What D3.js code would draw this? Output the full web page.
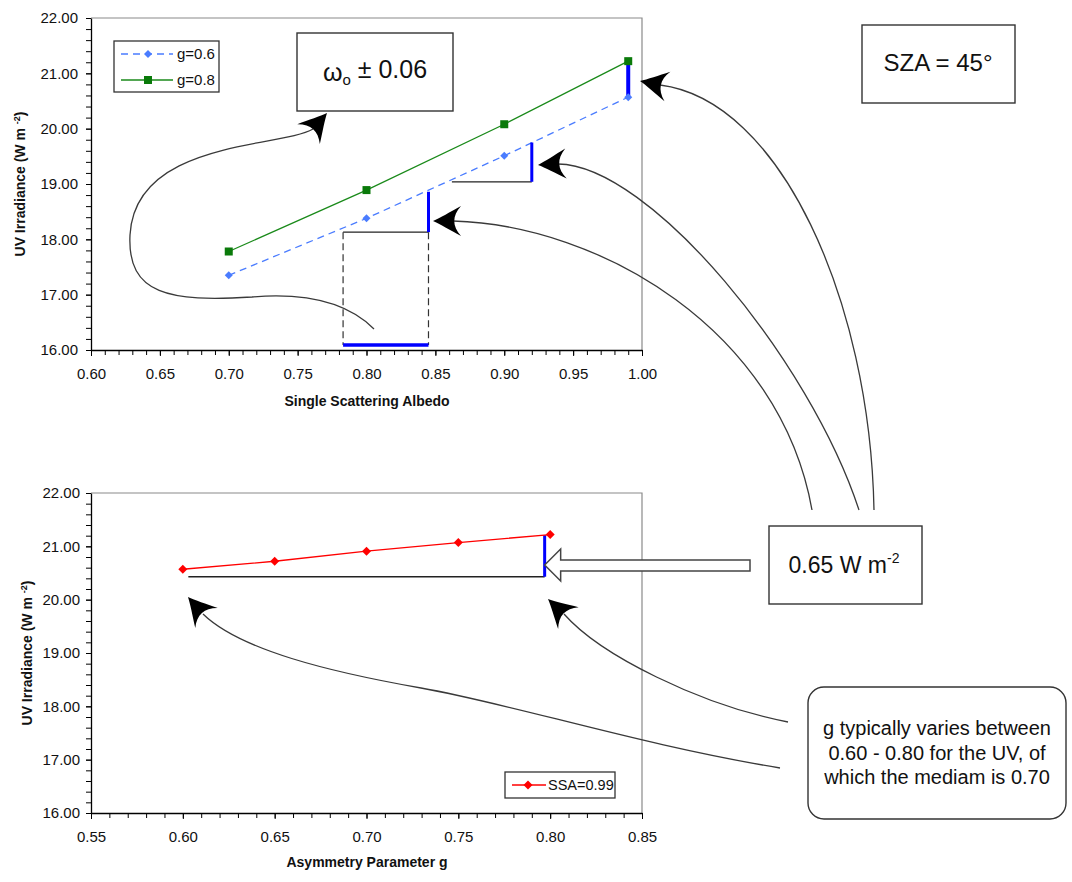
<!DOCTYPE html>
<html><head><meta charset="utf-8">
<script src="https://cdn.jsdelivr.net/npm/d3@7"></script>
<style>
body{margin:0;background:#fff;}
svg text{font-family:Arial,"Liberation Sans",sans-serif;fill:#111;}
</style></head><body>
<svg id="fig" width="1072" height="882"></svg>
<script>
// Upper panel: UV irradiance against single scattering albedo
const ssaValues = [0.70, 0.80, 0.90, 0.99];
const irrG06 = [17.35, 18.38, 19.51, 20.57];
const irrG08 = [17.78, 18.89, 20.08, 21.22];

// Lower panel: UV irradiance against asymmetry parameter
const gValues = [0.60, 0.65, 0.70, 0.75, 0.80];
const irrSSA099 = [20.57, 20.72, 20.91, 21.07, 21.22];

const yTickValues = [16, 17, 18, 19, 20, 21, 22];
const xTickValuesTop = [0.60, 0.65, 0.70, 0.75, 0.80, 0.85, 0.90, 0.95, 1.00];
const xTickValuesBottom = [0.55, 0.60, 0.65, 0.70, 0.75, 0.80, 0.85];

// Irradiance steps produced by a +0.06 change in albedo (g = 0.6 line)
const albedoSteps = [
  {x0: 0.783, x1: 0.845, lo: 18.13, hi: 18.86},
  {x0: 0.862, x1: 0.920, lo: 19.04, hi: 19.75}
];
// Range of irradiance over g = 0.60 - 0.80
const gStep = {x0: 0.603, x1: 0.797, lo: 20.43, hi: 21.21};

const svg = d3.select("#fig");
const fmt = d3.format(".2f");

const xTop = d3.scaleLinear().domain([0.60, 1.00]).range([91, 642]);
const yTop = d3.scaleLinear().domain([16, 22]).range([350, 18]);
const xBot = d3.scaleLinear().domain([0.55, 0.85]).range([91, 642]);
const yBot = d3.scaleLinear().domain([16, 22]).range([813, 493]);

function drawFrame(x, y, xTicks, xPad, yPad) {
  const g = svg.append("g");
  const [x0, x1] = x.range();
  const [yb, yt] = y.range();
  // plot area border (top and right)
  g.append("path")
    .attr("d", `M${x0},${yt}H${x1}V${yb}`)
    .attr("fill", "none").attr("stroke", "#8a8a8a").attr("stroke-width", 1.2);

  const xd = x.domain();
  const minorX = d3.range(Math.round(xd[0] * 100), Math.round(xd[1] * 100) + 1).map(v => v / 100);
  const minorY = d3.range(80, 111).map(v => v / 5);

  g.append("g").attr("transform", `translate(0,${yb})`)
    .call(d3.axisBottom(x).tickValues(minorX).tickSize(5).tickFormat(""))
    .call(a => a.select(".domain").remove());
  g.append("g").attr("transform", `translate(${x0},0)`)
    .call(d3.axisLeft(y).tickValues(minorY).tickSize(5).tickFormat(""))
    .call(a => a.select(".domain").remove());

  const ax = g.append("g").attr("transform", `translate(0,${yb})`)
    .call(d3.axisBottom(x).tickValues(xTicks).tickSize(6).tickPadding(xPad).tickFormat(fmt).tickSizeOuter(0));
  const ay = g.append("g").attr("transform", `translate(${x0},0)`)
    .call(d3.axisLeft(y).tickValues(yTickValues).tickSize(5).tickPadding(yPad).tickFormat(fmt).tickSizeOuter(0));
  [ax, ay].forEach(a => {
    a.selectAll("text").attr("font-size", 15).attr("font-family", "Arial, 'Liberation Sans', sans-serif").attr("fill", "#111");
    a.select(".domain").attr("stroke", "#000").attr("stroke-width", 1.3);
  });
  g.selectAll(".tick line").attr("stroke", "#000");
  return g;
}

function yTitle(cx, cy) {
  const t = svg.append("text")
    .attr("transform", `translate(${cx},${cy}) rotate(-90)`)
    .attr("text-anchor", "middle").attr("font-size", 14).attr("font-weight", "bold")
    .attr("dy", "0.35em");
  t.append("tspan").text("UV Irradiance (W m ");
  t.append("tspan").attr("font-size", 9).attr("dy", "-0.6em").text("-2");
  t.append("tspan").attr("dy", "0.4em").text(")");
}

function xTitle(cx, cy, label) {
  svg.append("text").attr("x", cx).attr("y", cy).attr("text-anchor", "middle")
    .attr("font-size", 14).attr("font-weight", "bold").attr("dy", "0.35em").text(label);
}

const diamond = r => `M0,${-r}L${r},0L0,${r}L${-r},0Z`;

// ---------- upper panel ----------
drawFrame(xTop, yTop, xTickValuesTop, 12, 8);
yTitle(20, 184);
xTitle(367, 401, "Single Scattering Albedo");

const lineTop = d3.line().x(d => xTop(d[0])).y(d => yTop(d[1]));
const ptsG06 = ssaValues.map((s, i) => [s, irrG06[i]]);
const ptsG08 = ssaValues.map((s, i) => [s, irrG08[i]]);

svg.append("path").attr("d", lineTop(ptsG06)).attr("fill", "none")
  .attr("stroke", "#4a7cff").attr("stroke-width", 1.3).attr("stroke-dasharray", "7,5");
svg.append("path").attr("d", lineTop(ptsG08)).attr("fill", "none")
  .attr("stroke", "#1a8a1a").attr("stroke-width", 1.3);

// irradiance steps: black run, blue rise
albedoSteps.forEach(s => {
  svg.append("line").attr("x1", xTop(s.x0)).attr("x2", xTop(s.x1))
    .attr("y1", yTop(s.lo)).attr("y2", yTop(s.lo))
    .attr("stroke", "#222").attr("stroke-width", 1.3);
  svg.append("line").attr("x1", xTop(s.x1)).attr("x2", xTop(s.x1))
    .attr("y1", yTop(s.lo)).attr("y2", yTop(s.hi))
    .attr("stroke", "#0000ff").attr("stroke-width", 3);
});
// ±0.06 interval projected onto the albedo axis
const ivl = albedoSteps[0];
[ivl.x0, ivl.x1].forEach(v => {
  svg.append("line").attr("x1", xTop(v)).attr("x2", xTop(v))
    .attr("y1", yTop(ivl.lo)).attr("y2", yTop(16.09))
    .attr("stroke", "#333").attr("stroke-width", 1.2).attr("stroke-dasharray", "7,4");
});
svg.append("line").attr("x1", xTop(ivl.x0)).attr("x2", xTop(ivl.x1))
  .attr("y1", yTop(16.09)).attr("y2", yTop(16.09))
  .attr("stroke", "#0000ff").attr("stroke-width", 3.5);

// spread between g values at SSA = 0.99
svg.append("line").attr("x1", xTop(0.99)).attr("x2", xTop(0.99))
  .attr("y1", yTop(irrG06[3])).attr("y2", yTop(irrG08[3]))
  .attr("stroke", "#0000ff").attr("stroke-width", 4);

svg.append("g").selectAll("path").data(ptsG06).join("path")
  .attr("transform", d => `translate(${xTop(d[0])},${yTop(d[1])})`)
  .attr("d", diamond(4)).attr("fill", "#4a7cff");
svg.append("g").selectAll("rect").data(ptsG08).join("rect")
  .attr("x", d => xTop(d[0]) - 4).attr("y", d => yTop(d[1]) - 4)
  .attr("width", 8).attr("height", 8).attr("fill", "#0a7a0a");

// legend
const lg = svg.append("g");
lg.append("rect").attr("x", 114).attr("y", 41).attr("width", 105).attr("height", 51)
  .attr("fill", "#fff").attr("stroke", "#333").attr("stroke-width", 1.3);
lg.append("line").attr("x1", 121).attr("x2", 173).attr("y1", 54).attr("y2", 54)
  .attr("stroke", "#4a7cff").attr("stroke-width", 1.3).attr("stroke-dasharray", "7,5");
lg.append("path").attr("transform", "translate(148,54)").attr("d", diamond(4)).attr("fill", "#4a7cff");
lg.append("text").attr("x", 177).attr("y", 54).attr("dy", "0.35em").attr("font-size", 15).text("g=0.6");
lg.append("line").attr("x1", 121).attr("x2", 173).attr("y1", 80).attr("y2", 80)
  .attr("stroke", "#1a8a1a").attr("stroke-width", 1.3);
lg.append("rect").attr("x", 144).attr("y", 76).attr("width", 8).attr("height", 8).attr("fill", "#0a7a0a");
lg.append("text").attr("x", 177).attr("y", 80).attr("dy", "0.35em").attr("font-size", 15).text("g=0.8");

// ---------- lower panel ----------
drawFrame(xBot, yBot, xTickValuesBottom, 12, 6);
yTitle(27, 653);
xTitle(367, 862, "Asymmetry Parameter g");

const ptsSSA = gValues.map((g, i) => [g, irrSSA099[i]]);
const lineBot = d3.line().x(d => xBot(d[0])).y(d => yBot(d[1]));

svg.append("line").attr("x1", xBot(gStep.x0)).attr("x2", xBot(gStep.x1))
  .attr("y1", yBot(gStep.lo)).attr("y2", yBot(gStep.lo))
  .attr("stroke", "#222").attr("stroke-width", 1.5);
svg.append("line").attr("x1", xBot(gStep.x1)).attr("x2", xBot(gStep.x1))
  .attr("y1", yBot(gStep.lo)).attr("y2", yBot(gStep.hi))
  .attr("stroke", "#0000ff").attr("stroke-width", 3);

svg.append("path").attr("d", lineBot(ptsSSA)).attr("fill", "none")
  .attr("stroke", "#ff0000").attr("stroke-width", 1.3);
svg.append("g").selectAll("path").data(ptsSSA).join("path")
  .attr("transform", d => `translate(${xBot(d[0])},${yBot(d[1])})`)
  .attr("d", diamond(4.5)).attr("fill", "#ff0000");

const lg2 = svg.append("g");
lg2.append("rect").attr("x", 505).attr("y", 772).attr("width", 110).attr("height", 26)
  .attr("fill", "#fff").attr("stroke", "#333").attr("stroke-width", 1.3);
lg2.append("line").attr("x1", 512).attr("x2", 546).attr("y1", 785).attr("y2", 785)
  .attr("stroke", "#ff0000").attr("stroke-width", 1.3);
lg2.append("path").attr("transform", "translate(528,785)").attr("d", diamond(4.5)).attr("fill", "#ff0000");
lg2.append("text").attr("x", 548).attr("y", 785).attr("dy", "0.35em").attr("font-size", 14.5).text("SSA=0.99");

// hollow block arrow pointing at the g spread
const tipX = xBot(gStep.x1), tipY = 565;
svg.append("path")
  .attr("d", `M${tipX},${tipY}L${tipX + 16},${tipY - 16}V${tipY - 5}H750V${tipY + 6}H${tipX + 16}V${tipY + 16}Z`)
  .attr("fill", "#fff").attr("stroke", "#444").attr("stroke-width", 1.5);

// ---------- callout boxes ----------
function box(x, y, w, h, r) {
  svg.append("rect").attr("x", x).attr("y", y).attr("width", w).attr("height", h)
    .attr("rx", r || 0).attr("fill", "#fff").attr("stroke", "#333").attr("stroke-width", 1.4);
}
box(297, 33, 156, 78);
const om = svg.append("text").attr("x", 375).attr("y", 72).attr("dy", "0.35em")
  .attr("text-anchor", "middle").attr("font-size", 25);
om.append("tspan").text("ω");
om.append("tspan").attr("font-size", 15).attr("dy", "0.3em").text("o");
om.append("tspan").attr("dy", "-0.3em").text(" ± 0.06");

box(862, 25, 153, 78);
svg.append("text").attr("x", 938).attr("y", 63).attr("dy", "0.35em")
  .attr("text-anchor", "middle").attr("font-size", 24).text("SZA = 45°");

box(769, 526, 153, 78);
const wm = svg.append("text").attr("x", 844).attr("y", 565).attr("dy", "0.35em")
  .attr("text-anchor", "middle").attr("font-size", 23);
wm.append("tspan").text("0.65 W m");
wm.append("tspan").attr("font-size", 14).attr("dy", "-0.75em").text("-2");

box(808, 687, 258, 132, 16);
["g typically varies between", "0.60 - 0.80 for the UV, of", "which the mediam is 0.70"].forEach((s, i) => {
  svg.append("text").attr("x", 937).attr("y", 728 + i * 24.5).attr("dy", "0.35em")
    .attr("text-anchor", "middle").attr("font-size", 20).text(s);
});

// ---------- curved pointer arrows ----------
// each: arrow tip, then cubic Bézier segments [c1, c2, end] starting from the arrowhead base
const pointers = [
  {tip: [327,113], start: [313,129], segs: [
    [[280,148],[135,140],[130,235]],
    [[127,295],[170,302],[252,297]],
    [[300,293],[345,300],[374,329]]]},
  {tip: [640,81], start: [660,85], segs: [[[780,100],[870,300],[874,510]]]},
  {tip: [538,165], start: [558,164], segs: [[[650,165],[810,360],[859,510]]]},
  {tip: [433,221], start: [453,221], segs: [[[600,225],[780,330],[812,510]]]},
  {tip: [188,597], start: [203,614], segs: [
    [[240,650],[330,672],[421,688]],
    [[512,704],[640,745],[780,768]]]},
  {tip: [548,599], start: [564,614], segs: [[[600,655],[700,705],[788,722]]]}
];
pointers.forEach(p => {
  const path = d3.path();
  path.moveTo(...p.start);
  p.segs.forEach(([c1, c2, e]) => path.bezierCurveTo(c1[0], c1[1], c2[0], c2[1], e[0], e[1]));
  svg.append("path").attr("d", path.toString()).attr("fill", "none")
    .attr("stroke", "#3a3a3a").attr("stroke-width", 1.3);
  const [tx, ty] = p.tip, [bx, by] = p.start;
  const ang = Math.atan2(ty - by, tx - bx) * 180 / Math.PI;
  svg.append("path").attr("transform", `translate(${tx},${ty}) rotate(${ang})`)
    .attr("d", "M0,0C-7,-3 -17,-9 -28,-15C-19,-5 -19,5 -28,15C-17,9 -7,3 0,0Z")
    .attr("fill", "#000");
});
</script>
</body></html>
